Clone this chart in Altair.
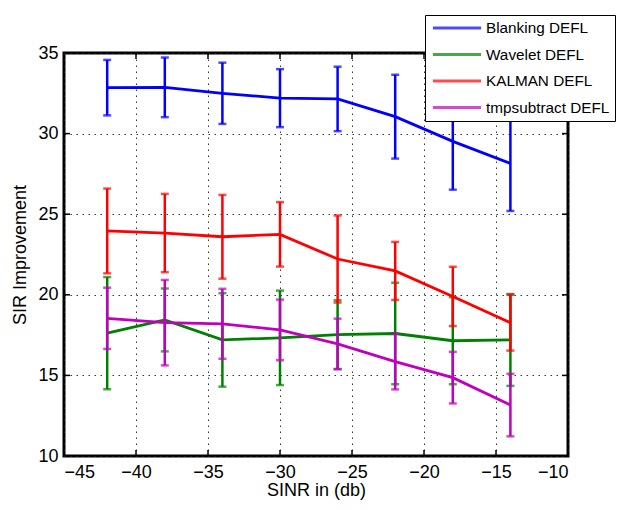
import altair as alt
import pandas as pd

NB = "\u00a0"
x_vals = [-42, -38, -34, -30, -26, -22, -18, -14]
series_names = ["Blanking DEFL", NB + "Wavelet DEFL", "KALMAN DEFL", NB + "tmpsubtract DEFL"]
series_colors = ["#0000FF", "#008000", "#FF0000", "#BF00BF"]

blank_y = [32.85, 32.87, 32.5, 32.2, 32.15, 31.05, 29.52, 28.15]
blank_err = [1.72, 1.85, 1.9, 1.8, 2.0, 2.6, 3.0, 2.95]
wave_y = [17.62, 18.44, 17.2, 17.33, 17.53, 17.6, 17.15, 17.2]
wave_err = [3.48, 1.95, 2.9, 2.93, 2.13, 3.15, 2.7, 2.85]
kal_y = [23.96, 23.83, 23.6, 23.75, 22.22, 21.48, 19.9, 18.27]
kal_err = [2.63, 2.43, 2.6, 2.0, 2.7, 1.8, 1.84, 1.73]
tmp_y = [18.54, 18.27, 18.2, 17.82, 16.95, 15.86, 14.86, 13.16]
tmp_err = [1.9, 2.65, 2.17, 1.88, 1.57, 1.73, 1.6, 1.94]

x_ticks = [-45, -40, -35, -30, -25, -20, -15, -10]
y_ticks = [10, 15, 20, 25, 30, 35]

W, H = 504, 403

all_y = [blank_y, wave_y, kal_y, tmp_y]
all_err = [blank_err, wave_err, kal_err, tmp_err]

xscale = alt.Scale(domain=[-45, -10], nice=False, zero=False)
yscale = alt.Scale(domain=[10, 35], nice=False, zero=False)

color = alt.Color(
    "series:N",
    scale=alt.Scale(domain=series_names, range=series_colors),
    legend=alt.Legend(
        title=None,
        orient="none",
        legendX=361,
        legendY=-38,
        symbolType="M-4,0H4",
        symbolSize=145,
        symbolOffset=19,
        symbolStrokeWidth=3,
        labelOffset=21,
        strokeColor="black",
        fillColor="white",
        padding=5,
        rowPadding=9.5,
        labelLimit=300,
    ),
)

xs = alt.X(
    "x:Q",
    scale=xscale,
    axis=alt.Axis(values=x_ticks, title="SINR in (db)", ticks=False, domain=False,
                  labelPadding=7, titlePadding=0),
)
ys = alt.Y(
    "y:Q",
    scale=yscale,
    axis=alt.Axis(values=y_ticks, title="SIR Improvement", ticks=False, domain=False,
                  labelPadding=6, titlePadding=8),
)

layers = []
for name, yv, ev in zip(series_names, all_y, all_err):
    df = pd.DataFrame({"x": x_vals, "y": yv, "err": ev, "series": name})
    base = alt.Chart(df).transform_calculate(
        lo="datum.y - datum.err", hi="datum.y + datum.err"
    )
    bars = base.mark_rule(strokeWidth=2.5).encode(
        x=xs, y=alt.Y("lo:Q", scale=yscale), y2="hi:Q", color=color
    )
    cap_lo = base.mark_tick(orient="horizontal", size=8, thickness=2.5).encode(
        x=xs, y=alt.Y("lo:Q", scale=yscale), color=color
    )
    cap_hi = base.mark_tick(orient="horizontal", size=8, thickness=2.5).encode(
        x=xs, y=alt.Y("hi:Q", scale=yscale), color=color
    )
    line = base.mark_line(strokeWidth=2.8).encode(x=xs, y=ys, color=color)
    layers += [bars, cap_lo, cap_hi, line]

xt = pd.DataFrame({"x": x_ticks[1:-1]})
yt = pd.DataFrame({"y": y_ticks[1:-1]})
tick_layers = [
    alt.Chart(xt).mark_rule(color="black", strokeWidth=1.5).encode(
        x=alt.X("x:Q", scale=xscale), y=alt.value(0), y2=alt.value(6)),
    alt.Chart(xt).mark_rule(color="black", strokeWidth=1.5).encode(
        x=alt.X("x:Q", scale=xscale), y=alt.value(H), y2=alt.value(H - 6)),
    alt.Chart(yt).mark_rule(color="black", strokeWidth=1.5).encode(
        y=alt.Y("y:Q", scale=yscale), x=alt.value(0), x2=alt.value(6)),
    alt.Chart(yt).mark_rule(color="black", strokeWidth=1.5).encode(
        y=alt.Y("y:Q", scale=yscale), x=alt.value(W), x2=alt.value(W - 6)),
]

chart = alt.layer(*(layers + tick_layers)).properties(
    width=W,
    height=H,
    background="white",
    autosize=alt.AutoSizeParams(type="none"),
    padding={"left": 56, "top": 45, "right": 51, "bottom": 46},
).configure_view(
    stroke="black", strokeWidth=3
).configure_axis(
    labelFont="Liberation Sans",
    titleFont="Liberation Sans",
    labelFontSize=18,
    titleFontSize=18,
    titleFontWeight="normal",
    labelColor="black",
    titleColor="black",
    gridColor="#222222",
    gridDash=[1.5, 4.5],
    gridWidth=1,
    gridOpacity=0.9,
).configure_legend(
    labelFontSize=15.3,
    labelFont="Liberation Sans",
    labelColor="black",
)

chart.save("out.html", embed_options={"renderer": "svg", "actions": False})
